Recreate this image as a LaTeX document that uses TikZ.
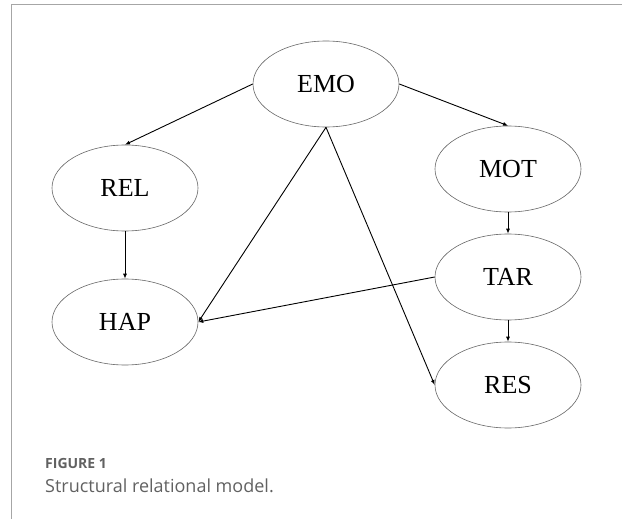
\documentclass[tikz,border=0pt]{standalone}
\usepackage{fontspec}
\setmainfont{Liberation Serif}
\newfontfamily\capfont{Open Sans}
\usetikzlibrary{shapes.geometric,arrows.meta}
\begin{document}
\begin{tikzpicture}[x=1pt,y=-1pt,
  var/.style={ellipse,draw=black!60,line width=0.6pt,minimum width=146pt,minimum height=86pt,inner sep=0pt,font=\fontsize{26}{26}\selectfont},
  link/.style={-{Latex[length=5pt,width=4pt]},line width=0.9pt,black},
  capt/.style={anchor=base west,inner sep=0pt,text=black!62}]
\useasboundingbox (0,0) rectangle (622,519);
\draw[black!35,line width=1.2pt] (622,4.5) -- (11.5,4.5) -- (11.5,519);
\node[var] (EMO) at (326,84) {EMO};
\node[var] (REL) at (125,188) {REL};
\node[var] (HAP) at (125,322) {HAP};
\node[var] (MOT) at (508,169) {MOT};
\node[var] (TAR) at (508,277) {TAR};
\node[var] (RES) at (508,385) {RES};
\draw[link] (EMO.west) -- (REL.north);
\draw[link] (EMO.east) -- (MOT.north);
\draw[link] (EMO.south) -- (HAP.east);
\draw[link] (EMO.south) -- (RES.west);
\draw[link] (REL.south) -- (HAP.north);
\draw[link] (MOT.south) -- (TAR.north);
\draw[link] (TAR.south) -- (RES.north);
\draw[link] (TAR.west) -- (HAP.east);
\node[capt,font=\capfont\bfseries\fontsize{14}{14}\selectfont] (fig) at (45,468) {FIGURE 1};
\node[capt,font=\capfont\fontsize{18}{18}\selectfont] (cap) at (45,492) {Structural relational model.};
\end{tikzpicture}
\end{document}
